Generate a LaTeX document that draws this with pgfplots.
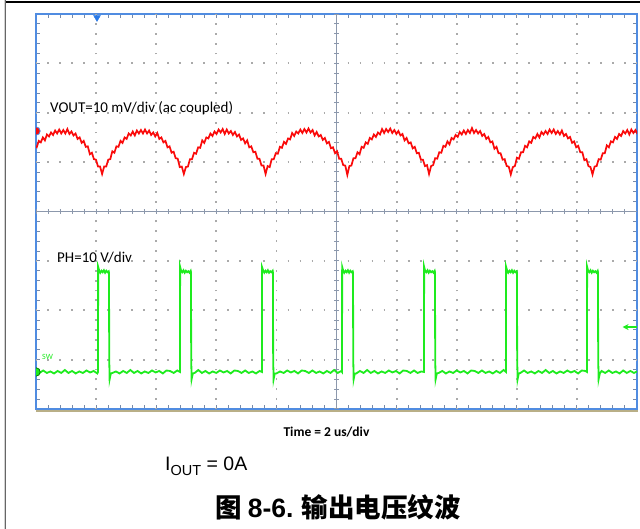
\documentclass[border=0pt]{standalone}
\usepackage{fontspec}
\setmainfont{Carlito}
\newfontfamily\arial{Liberation Sans}
\newfontfamily\cjk{Noto Sans CJK SC}
\usepackage{pgfplots}
\pgfplotsset{compat=1.18}
\usetikzlibrary{arrows.meta}
\definecolor{frameblue}{RGB}{80,140,225}
\definecolor{tickc}{RGB}{120,138,168}
\definecolor{gridc}{RGB}{170,170,170}
\definecolor{centerc}{RGB}{140,152,172}
\definecolor{scopered}{RGB}{250,10,10}
\definecolor{scopegreen}{RGB}{30,235,30}
\definecolor{trigblue}{RGB}{40,120,230}
\definecolor{tanc}{RGB}{185,175,135}
\begin{document}
\begin{tikzpicture}
\useasboundingbox (0,0) rectangle (640bp,529bp);
\draw[black, line width=1.3bp] (5bp,527bp) -- (640bp,527bp);
\draw[gray!35, line width=2.8bp] (5bp,0) -- (5bp,529bp);
\draw[gray!80!black, line width=1.3bp] (5.5bp,0) -- (5.5bp,529bp);
\draw[tanc, line width=1.2bp] (36bp,118bp) -- (638bp,118bp);
\begin{axis}[
  at={(36bp,120bp)}, anchor=south west,
  scale only axis, width=601bp, height=395bp,
  xmin=0, xmax=10, ymin=-4, ymax=4,
  xtick={0,...,10}, ytick={-4,...,4},
  minor x tick num=4, minor y tick num=4,
  xticklabels={}, yticklabels={},
  tick align=inside,
  major tick length=4bp, minor tick length=4bp,
  tick style={color=tickc, line width=1bp},
  axis line style={draw=frameblue, line width=2.2bp},
  clip marker paths=true,
]
% dotted grid
\pgfplotsinvokeforeach{-3,-2,-1,1,2,3}{
  \draw[gridc, line width=1.8bp, dash pattern=on 1.8bp off 10.22bp, dash phase=0.9bp] (axis cs:0,#1) -- (axis cs:10,#1);
}
\pgfplotsinvokeforeach{1,2,3,4,6,7,8,9}{
  \draw[gridc, line width=1.8bp, dash pattern=on 1.8bp off 8.075bp, dash phase=0.9bp] (axis cs:#1,-4) -- (axis cs:#1,4);
}
% centre lines with ticks
\draw[centerc, line width=1bp] (axis cs:0,0) -- (axis cs:10,0);
\draw[centerc, line width=1bp] (axis cs:5,-4) -- (axis cs:5,4);
\draw[centerc, line width=5bp, dash pattern=on 1bp off 11.02bp, dash phase=0.5bp] (axis cs:0,0) -- (axis cs:10,0);
\draw[centerc, line width=5bp, dash pattern=on 1bp off 8.875bp, dash phase=0.5bp] (axis cs:5,-4) -- (axis cs:5,4);

% VOUT (ac coupled), red
\addplot[scopered, line width=1.7bp] coordinates {
(-0.022,1.32) (0.012,1.30) (0.046,1.43) (0.080,1.40) (0.114,1.50) (0.148,1.44) (0.182,1.56) (0.216,1.52) (0.250,1.60) (0.284,1.55) (0.318,1.64) (0.352,1.58) (0.386,1.66) (0.420,1.58) (0.454,1.65) (0.488,1.58) (0.522,1.67) (0.556,1.57) (0.590,1.62) (0.624,1.54) (0.658,1.58) (0.692,1.47) (0.726,1.50) (0.760,1.39) (0.794,1.43) (0.828,1.31) (0.862,1.32) (0.896,1.16) (0.930,1.19) (0.964,1.06) (0.998,1.05) (1.032,0.91) (1.066,0.91)
(1.100,0.76) (1.134,0.91) (1.168,0.91) (1.202,1.05) (1.236,1.06) (1.270,1.22) (1.304,1.19) (1.338,1.32) (1.372,1.31) (1.406,1.43) (1.440,1.39) (1.474,1.50) (1.508,1.47) (1.542,1.58) (1.576,1.54) (1.610,1.62) (1.644,1.54) (1.678,1.64) (1.712,1.58) (1.746,1.65) (1.780,1.58) (1.814,1.66) (1.848,1.58) (1.882,1.64) (1.916,1.55) (1.950,1.60) (1.984,1.52) (2.018,1.59) (2.052,1.47) (2.086,1.50) (2.120,1.40) (2.154,1.43) (2.188,1.30) (2.222,1.32) (2.256,1.19) (2.290,1.21) (2.324,1.08) (2.358,1.07) (2.392,0.90) (2.426,0.91)
(2.460,0.76) (2.494,0.90) (2.528,0.91) (2.562,1.06) (2.596,1.06) (2.630,1.19) (2.664,1.17) (2.698,1.30) (2.732,1.29) (2.766,1.44) (2.800,1.39) (2.834,1.50) (2.868,1.48) (2.902,1.58) (2.936,1.53) (2.970,1.62) (3.004,1.57) (3.038,1.66) (3.072,1.60) (3.106,1.67) (3.140,1.57) (3.174,1.66) (3.208,1.58) (3.242,1.63) (3.276,1.55) (3.310,1.61) (3.344,1.52) (3.378,1.56) (3.412,1.45) (3.446,1.48) (3.480,1.38) (3.514,1.44) (3.548,1.30) (3.582,1.32) (3.616,1.20) (3.650,1.21) (3.684,1.07) (3.718,1.07) (3.752,0.93) (3.786,0.93)
(3.820,0.76) (3.854,0.92) (3.888,0.90) (3.922,1.06) (3.956,1.06) (3.990,1.18) (4.024,1.17) (4.058,1.31) (4.092,1.29) (4.126,1.41) (4.160,1.37) (4.194,1.48) (4.228,1.46) (4.262,1.59) (4.296,1.53) (4.330,1.62) (4.364,1.58) (4.398,1.66) (4.432,1.59) (4.466,1.67) (4.500,1.60) (4.534,1.68) (4.568,1.60) (4.602,1.65) (4.636,1.54) (4.670,1.61) (4.704,1.52) (4.738,1.55) (4.772,1.45) (4.806,1.49) (4.840,1.38) (4.874,1.41) (4.908,1.28) (4.942,1.30) (4.976,1.18) (5.010,1.22) (5.044,1.07) (5.078,1.07) (5.112,0.94) (5.146,0.93)
(5.180,0.74) (5.214,0.92) (5.248,0.93) (5.282,1.08) (5.316,1.08) (5.350,1.20) (5.384,1.16) (5.418,1.31) (5.452,1.29) (5.486,1.40) (5.520,1.37) (5.554,1.49) (5.588,1.46) (5.622,1.56) (5.656,1.51) (5.690,1.60) (5.724,1.56) (5.758,1.67) (5.792,1.59) (5.826,1.67) (5.860,1.61) (5.894,1.68) (5.928,1.59) (5.962,1.65) (5.996,1.57) (6.030,1.63) (6.064,1.54) (6.098,1.57) (6.132,1.44) (6.166,1.49) (6.200,1.38) (6.234,1.40) (6.268,1.28) (6.302,1.31) (6.336,1.18) (6.370,1.19) (6.404,1.05) (6.438,1.05) (6.472,0.92) (6.506,0.94)
(6.540,0.76) (6.574,0.92) (6.608,0.94) (6.642,1.08) (6.676,1.07) (6.710,1.20) (6.744,1.19) (6.778,1.33) (6.812,1.31) (6.846,1.42) (6.880,1.36) (6.914,1.49) (6.948,1.46) (6.982,1.55) (7.016,1.51) (7.050,1.61) (7.084,1.56) (7.118,1.64) (7.152,1.57) (7.186,1.65) (7.220,1.59) (7.254,1.69) (7.288,1.59) (7.322,1.65) (7.356,1.58) (7.390,1.63) (7.424,1.53) (7.458,1.57) (7.492,1.47) (7.526,1.51) (7.560,1.40) (7.594,1.42) (7.628,1.27) (7.662,1.31) (7.696,1.18) (7.730,1.18) (7.764,1.05) (7.798,1.06) (7.832,0.92) (7.866,0.91)
(7.900,0.75) (7.934,0.90) (7.968,0.92) (8.002,1.09) (8.036,1.07) (8.070,1.20) (8.104,1.20) (8.138,1.33) (8.172,1.30) (8.206,1.42) (8.240,1.39) (8.274,1.51) (8.308,1.48) (8.342,1.57) (8.376,1.50) (8.410,1.61) (8.444,1.56) (8.478,1.63) (8.512,1.57) (8.546,1.66) (8.580,1.59) (8.614,1.66) (8.648,1.57) (8.682,1.63) (8.716,1.56) (8.750,1.64) (8.784,1.53) (8.818,1.57) (8.852,1.48) (8.886,1.51) (8.920,1.39) (8.954,1.42) (8.988,1.30) (9.022,1.33) (9.056,1.20) (9.090,1.20) (9.124,1.04) (9.158,1.06) (9.192,0.92) (9.226,0.90)
(9.260,0.75) (9.294,0.91) (9.328,0.92) (9.362,1.06) (9.396,1.05) (9.430,1.18) (9.464,1.18) (9.498,1.34) (9.532,1.30) (9.566,1.42) (9.600,1.40) (9.634,1.51) (9.668,1.47) (9.702,1.57) (9.736,1.53) (9.770,1.63) (9.804,1.58) (9.838,1.65) (9.872,1.56) (9.906,1.66) (9.940,1.59) (9.974,1.65) (10.008,1.57)
};

% PH switch node, green
\addplot[scopegreen, line width=1.8bp] coordinates {
(0.00,-3.23) (0.06,-3.27) (0.12,-3.22) (0.18,-3.27) (0.24,-3.24) (0.30,-3.28) (0.36,-3.23) (0.42,-3.27) (0.48,-3.21) (0.54,-3.27) (0.60,-3.23) (0.66,-3.28) (0.72,-3.24) (0.78,-3.27) (0.84,-3.22) (0.90,-3.26) (0.96,-3.23) (1.02,-3.28)
(1.032,-3.25) (1.034,-1.12) (1.050,-1.19) (1.070,-1.24) (1.090,-1.20) (1.110,-1.23) (1.130,-1.19) (1.150,-1.24) (1.170,-1.20) (1.190,-1.23) (1.210,-1.21) (1.215,-1.24) (1.218,-2.95) (1.225,-3.40) (1.245,-3.28)
(1.27,-3.27) (1.33,-3.24) (1.39,-3.28) (1.45,-3.23) (1.51,-3.27) (1.57,-3.21) (1.63,-3.27) (1.69,-3.23) (1.75,-3.28) (1.81,-3.24) (1.87,-3.27) (1.93,-3.22) (1.99,-3.26) (2.05,-3.23) (2.11,-3.28) (2.17,-3.22) (2.23,-3.23) (2.29,-3.27) (2.35,-3.22)
(2.396,-3.25) (2.398,-1.12) (2.414,-1.20) (2.434,-1.23) (2.454,-1.19) (2.474,-1.24) (2.494,-1.20) (2.514,-1.23) (2.534,-1.21) (2.554,-1.24) (2.574,-1.20) (2.579,-1.23) (2.582,-2.95) (2.589,-3.40) (2.609,-3.28)
(2.64,-3.27) (2.70,-3.21) (2.76,-3.27) (2.82,-3.23) (2.88,-3.28) (2.94,-3.24) (3.00,-3.27) (3.06,-3.22) (3.12,-3.26) (3.18,-3.23) (3.24,-3.28) (3.30,-3.22) (3.36,-3.23) (3.42,-3.27) (3.48,-3.22) (3.54,-3.27) (3.60,-3.24) (3.66,-3.28) (3.72,-3.23)
(3.760,-3.25) (3.762,-1.13) (3.778,-1.19) (3.798,-1.24) (3.818,-1.20) (3.838,-1.23) (3.858,-1.19) (3.878,-1.24) (3.898,-1.21) (3.918,-1.23) (3.938,-1.20) (3.943,-1.24) (3.946,-2.95) (3.953,-3.40) (3.973,-3.28)
(4.00,-3.28) (4.06,-3.24) (4.12,-3.27) (4.18,-3.22) (4.24,-3.26) (4.30,-3.23) (4.36,-3.28) (4.42,-3.22) (4.48,-3.23) (4.54,-3.27) (4.60,-3.22) (4.66,-3.27) (4.72,-3.24) (4.78,-3.28) (4.84,-3.23) (4.90,-3.27) (4.96,-3.21) (5.02,-3.27) (5.08,-3.23)
(5.092,-3.25) (5.094,-1.12) (5.110,-1.19) (5.130,-1.24) (5.150,-1.20) (5.170,-1.23) (5.190,-1.19) (5.210,-1.24) (5.230,-1.20) (5.250,-1.23) (5.270,-1.21) (5.275,-1.24) (5.278,-2.95) (5.285,-3.40) (5.305,-3.28)
(5.33,-3.28) (5.39,-3.23) (5.45,-3.27) (5.51,-3.21) (5.57,-3.27) (5.63,-3.23) (5.69,-3.28) (5.75,-3.24) (5.81,-3.27) (5.87,-3.22) (5.93,-3.26) (5.99,-3.23) (6.05,-3.28) (6.11,-3.22) (6.17,-3.23) (6.23,-3.27) (6.29,-3.22) (6.35,-3.27) (6.41,-3.24)
(6.456,-3.25) (6.458,-1.12) (6.474,-1.20) (6.494,-1.23) (6.514,-1.19) (6.534,-1.24) (6.554,-1.20) (6.574,-1.23) (6.594,-1.21) (6.614,-1.24) (6.634,-1.20) (6.639,-1.23) (6.642,-2.95) (6.649,-3.40) (6.669,-3.28)
(6.70,-3.27) (6.76,-3.23) (6.82,-3.28) (6.88,-3.24) (6.94,-3.27) (7.00,-3.22) (7.06,-3.26) (7.12,-3.23) (7.18,-3.28) (7.24,-3.22) (7.30,-3.23) (7.36,-3.27) (7.42,-3.22) (7.48,-3.27) (7.54,-3.24) (7.60,-3.28) (7.66,-3.23) (7.72,-3.27) (7.78,-3.21)
(7.820,-3.25) (7.822,-1.12) (7.838,-1.19) (7.858,-1.24) (7.878,-1.20) (7.898,-1.23) (7.918,-1.19) (7.938,-1.24) (7.958,-1.20) (7.978,-1.23) (7.998,-1.21) (8.003,-1.24) (8.006,-2.95) (8.013,-3.40) (8.033,-3.28)
(8.06,-3.27) (8.12,-3.22) (8.18,-3.27) (8.24,-3.24) (8.30,-3.28) (8.36,-3.23) (8.42,-3.27) (8.48,-3.21) (8.54,-3.27) (8.60,-3.23) (8.66,-3.28) (8.72,-3.24) (8.78,-3.27) (8.84,-3.22) (8.90,-3.26) (8.96,-3.23) (9.02,-3.28) (9.08,-3.22) (9.14,-3.23)
(9.168,-3.25) (9.170,-1.12) (9.186,-1.20) (9.206,-1.23) (9.226,-1.19) (9.246,-1.24) (9.266,-1.20) (9.286,-1.23) (9.306,-1.21) (9.326,-1.24) (9.346,-1.20) (9.351,-1.23) (9.354,-2.95) (9.361,-3.40) (9.381,-3.28)
(9.41,-3.23) (9.47,-3.27) (9.53,-3.22) (9.59,-3.27) (9.65,-3.24) (9.71,-3.28) (9.77,-3.22) (9.83,-3.27) (9.89,-3.23) (9.95,-3.27) (10.00,-3.24)
};

% channel reference markers and trigger marker
\addplot[only marks, mark=*, mark size=4.2bp, mark options={fill=scopered, draw=frameblue, line width=0.8bp}] coordinates {(0,1.63)};
\addplot[only marks, mark=*, mark size=4.2bp, mark options={fill=scopegreen, draw=green!50!black, line width=0.8bp}] coordinates {(0,-3.25)};
\addplot[only marks, mark=triangle*, mark size=4bp, mark options={fill=trigblue, draw=trigblue, rotate=180}] coordinates {(1.015,3.93)};
\draw[scopegreen, line width=1.3bp, -{Stealth[length=6bp, width=6bp]}] (axis cs:10,-2.34) -- (axis cs:9.76,-2.34);
\node[anchor=base west, inner sep=0, text=scopegreen, font=\fontsize{8bp}{9bp}\selectfont] at (axis cs:0.1,-2.99) {SW};
\end{axis}
\node[anchor=base west, inner sep=0] at (50bp,416bp) {\fontsize{15bp}{18bp}\selectfont VOUT=10 mV/div (ac coupled)};
\node[anchor=base west, inner sep=0] at (57bp,266bp) {\fontsize{15bp}{18bp}\selectfont PH=10 V/div};
\node[anchor=base, inner sep=0] at (326.5bp,92bp) {\fontsize{13.5bp}{16bp}\selectfont\bfseries Time = 2 us/div};
\node[anchor=base west, inner sep=0] at (165bp,58bp) {\arial\fontsize{19.5bp}{22bp}\selectfont I\raisebox{-4.5bp}{\fontsize{14.5bp}{17bp}\selectfont OUT} = 0A};
\node[anchor=base, inner sep=0] at (338bp,12bp) {\fontsize{26.5bp}{31bp}\selectfont\cjk\bfseries 图 {\arial\bfseries 8-6.} 输出电压纹波};
\end{tikzpicture}
\end{document}
